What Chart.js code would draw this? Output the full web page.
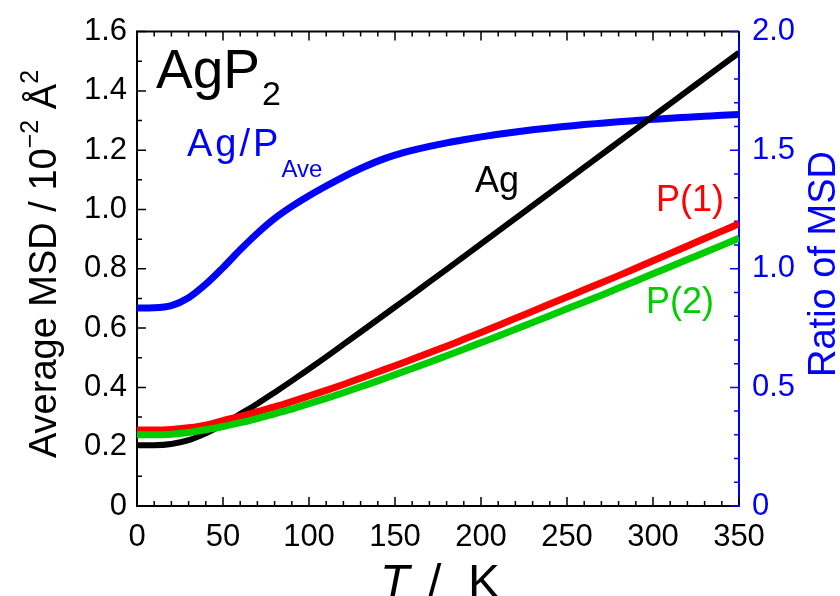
<!DOCTYPE html>
<html>
<head>
<meta charset="utf-8">
<script src="https://cdn.jsdelivr.net/npm/chart.js@4.4.0/dist/chart.umd.min.js"></script>
<style>
    html, body { margin: 0; padding: 0; background: #fff; }
    #wrap { width: 840px; height: 596px; position: relative; }
</style>
</head>
<body>
<div id="wrap"><canvas id="msdChart" width="840" height="596"></canvas></div>
<script>
// ============================================
// DATA
// ============================================
const temps = [0, 10, 20, 30, 40, 50, 60, 70, 80, 90, 100, 110, 120, 130, 140, 150, 160, 170,
    180, 190, 200, 210, 220, 230, 240, 250, 260, 270, 280, 290, 300, 310, 320, 330, 340, 350];

const msdAg = [0.205, 0.205, 0.209, 0.222, 0.245, 0.275, 0.310, 0.345, 0.383, 0.422, 0.462, 0.503,
    0.545, 0.587, 0.629, 0.671, 0.713, 0.756, 0.798, 0.841, 0.884, 0.927, 0.970, 1.013, 1.056,
    1.099, 1.142, 1.185, 1.228, 1.271, 1.314, 1.357, 1.400, 1.443, 1.486, 1.529];

const msdP1 = [0.256, 0.256, 0.258, 0.264, 0.273, 0.288, 0.302, 0.318, 0.334, 0.352, 0.371, 0.390,
    0.410, 0.431, 0.452, 0.473, 0.495, 0.517, 0.539, 0.562, 0.585, 0.609, 0.633, 0.657, 0.681,
    0.705, 0.729, 0.753, 0.777, 0.802, 0.827, 0.852, 0.877, 0.902, 0.927, 0.952];

const msdP2 = [0.240, 0.240, 0.242, 0.248, 0.257, 0.268, 0.281, 0.295, 0.311, 0.327, 0.345, 0.363,
    0.382, 0.402, 0.422, 0.443, 0.464, 0.485, 0.507, 0.529, 0.551, 0.573, 0.596, 0.619, 0.642,
    0.665, 0.688, 0.711, 0.735, 0.759, 0.783, 0.807, 0.831, 0.855, 0.879, 0.903];

const ratioAgPave = [0.835, 0.836, 0.845, 0.878, 0.935, 1.005, 1.080, 1.150, 1.212, 1.263, 1.308,
    1.349, 1.388, 1.423, 1.454, 1.479, 1.499, 1.516, 1.531, 1.544, 1.556, 1.567, 1.577, 1.586,
    1.594, 1.601, 1.608, 1.614, 1.620, 1.625, 1.630, 1.635, 1.639, 1.643, 1.647, 1.650];

const xTicks = [0, 50, 100, 150, 200, 250, 300, 350];
const yTicks = [0, 0.2, 0.4, 0.6, 0.8, 1.0, 1.2, 1.4, 1.6];
const y2Ticks = [0, 0.5, 1.0, 1.5, 2.0];

const FONT = '"Liberation Sans", Arial, sans-serif';
const BLUE = '#0000ff';
const GREEN = '#00cc00';

function pts(ys) {
    return temps.map((t, i) => ({ x: t, y: ys[i] }));
}

// ============================================
// PLUGINS
// ============================================
// inward tick marks + top frame line
const frameTicks = {
    id: 'frameTicks',
    beforeDatasetsDraw(chart) {
        const ctx = chart.ctx;
        const { left, right, top, bottom } = chart.chartArea;
        const sx = chart.scales.x, sy = chart.scales.y, sy2 = chart.scales.y2;
        ctx.save();
        ctx.lineWidth = 2;
        ctx.strokeStyle = '#000';
        ctx.beginPath();
        ctx.moveTo(left - 1, top);
        ctx.lineTo(right, top);
        ctx.stroke();

        ctx.lineWidth = 1.5;
        ctx.beginPath();
        for (let t = 0; t <= 350; t += 10) {
            const px = sx.getPixelForValue(t);
            const len = t % 50 === 0 ? 9 : 5;
            ctx.moveTo(px, bottom); ctx.lineTo(px, bottom - len);
            ctx.moveTo(px, top); ctx.lineTo(px, top + len);
        }
        for (let k = 0; k <= 16; k++) {
            const py = sy.getPixelForValue(k / 10);
            const len = k % 2 === 0 ? 9 : 5;
            ctx.moveTo(left, py); ctx.lineTo(left + len, py);
        }
        ctx.stroke();

        ctx.strokeStyle = BLUE;
        ctx.beginPath();
        for (let k = 0; k <= 20; k++) {
            const py = sy2.getPixelForValue(k / 10);
            const len = k % 5 === 0 ? 9 : 5;
            ctx.moveTo(right, py); ctx.lineTo(right - len, py);
        }
        ctx.stroke();
        ctx.restore();
    }
};

// axis titles and curve labels
const labels = {
    id: 'labels',
    afterDraw(chart) {
        const ctx = chart.ctx;
        ctx.save();
        ctx.textBaseline = 'alphabetic';

        // left title: Average MSD / 10^-2 Å^2
        const parts = [
            { s: 'Average MSD / 10', f: 38, dy: 0 },
            { s: '\u22122', f: 25, dy: -18 },
            { s: ' \u00c5', f: 38, dy: 0 },
            { s: '2', f: 25, dy: -18 }
        ];
        let total = 0;
        parts.forEach(p => { ctx.font = `${p.f}px ${FONT}`; p.w = ctx.measureText(p.s).width; total += p.w; });
        ctx.save();
        ctx.translate(56, 264);
        ctx.rotate(-Math.PI / 2);
        ctx.fillStyle = '#000';
        let cx = -total / 2;
        parts.forEach(p => { ctx.font = `${p.f}px ${FONT}`; ctx.fillText(p.s, cx, p.dy); cx += p.w; });
        ctx.restore();

        // right title
        ctx.save();
        ctx.translate(835, 264);
        ctx.rotate(-Math.PI / 2);
        ctx.fillStyle = BLUE;
        ctx.font = `38px ${FONT}`;
        ctx.textAlign = 'center';
        ctx.fillText('Ratio of MSD', 0, 0);
        ctx.restore();

        // bottom title: T / K
        ctx.fillStyle = '#000';
        ctx.font = `italic 48px ${FONT}`;
        ctx.fillText('T', 380, 598);
        ctx.font = `48px ${FONT}`;
        ctx.fillText('/', 428, 598);
        ctx.fillText('K', 468, 598);

        // compound label AgP2
        ctx.font = `55px ${FONT}`;
        ctx.fillText('AgP', 156, 88);
        const wAgP = ctx.measureText('AgP').width;
        ctx.font = `34px ${FONT}`;
        ctx.fillText('2', 156 + wAgP + 2, 105);

        // Ag/P_Ave
        ctx.fillStyle = BLUE;
        ctx.font = `38px ${FONT}`;
        ctx.letterSpacing = '3px';
        ctx.fillText('Ag/P', 187, 156);
        const wAgPs = ctx.measureText('Ag/P').width;
        ctx.letterSpacing = '0px';
        ctx.font = `24px ${FONT}`;
        ctx.fillText('Ave', 187 + wAgPs, 177);

        // curve labels
        ctx.font = `36px ${FONT}`;
        ctx.fillStyle = '#000';
        ctx.fillText('Ag', 475, 192);
        ctx.fillStyle = '#ff0000';
        ctx.fillText('P(1)', 656, 211);
        ctx.fillStyle = GREEN;
        ctx.fillText('P(2)', 646, 313);
        ctx.restore();
    }
};

// ============================================
// CHART
// ============================================
function lineSet(label, data, color, width, axis, order) {
    return {
        label,
        data: pts(data),
        borderColor: color,
        backgroundColor: color,
        borderWidth: width,
        pointRadius: 0,
        cubicInterpolationMode: 'monotone',
        yAxisID: axis,
        order,
        borderCapStyle: 'butt'
    };
}

new Chart(document.getElementById('msdChart'), {
    type: 'line',
    data: {
        datasets: [
            lineSet('P(2)', msdP2, GREEN, 7, 'y', 0),
            lineSet('P(1)', msdP1, '#ff0000', 7, 'y', 1),
            lineSet('Ag', msdAg, '#000000', 6, 'y', 2),
            lineSet('Ag/P Ave', ratioAgPave, BLUE, 7, 'y2', 3)
        ]
    },
    options: {
        responsive: false,
        animation: false,
        layout: { padding: { top: 22 } },
        plugins: {
            legend: { display: false },
            tooltip: { enabled: false }
        },
        scales: {
            x: {
                type: 'linear',
                position: 'bottom',
                min: 0,
                max: 350,
                afterFit: s => { s.height = 90; },
                afterBuildTicks: s => { s.ticks = xTicks.map(v => ({ value: v })); },
                grid: { display: false, drawTicks: false },
                border: { display: true, color: '#000', width: 2 },
                ticks: { color: '#000', font: { family: FONT, size: 31 }, padding: 13, maxRotation: 0 }
            },
            y: {
                type: 'linear',
                position: 'left',
                min: 0,
                max: 1.6,
                afterFit: s => { s.width = 137; },
                afterBuildTicks: s => { s.ticks = yTicks.map(v => ({ value: v })); },
                grid: { display: false, drawTicks: false },
                border: { display: true, color: '#000', width: 2 },
                ticks: {
                    color: '#000',
                    font: { family: FONT, size: 31 },
                    padding: 10,
                    callback: v => v === 0 ? '0' : v.toFixed(1)
                }
            },
            y2: {
                type: 'linear',
                position: 'right',
                min: 0,
                max: 2.0,
                afterFit: s => { s.width = 101; },
                afterBuildTicks: s => { s.ticks = y2Ticks.map(v => ({ value: v })); },
                grid: { display: false, drawTicks: false },
                border: { display: true, color: BLUE, width: 2 },
                ticks: {
                    color: BLUE,
                    font: { family: FONT, size: 31 },
                    padding: 13,
                    callback: v => v === 0 ? '0' : v.toFixed(1)
                }
            }
        }
    },
    plugins: [frameTicks, labels]
});
</script>
</body>
</html>
